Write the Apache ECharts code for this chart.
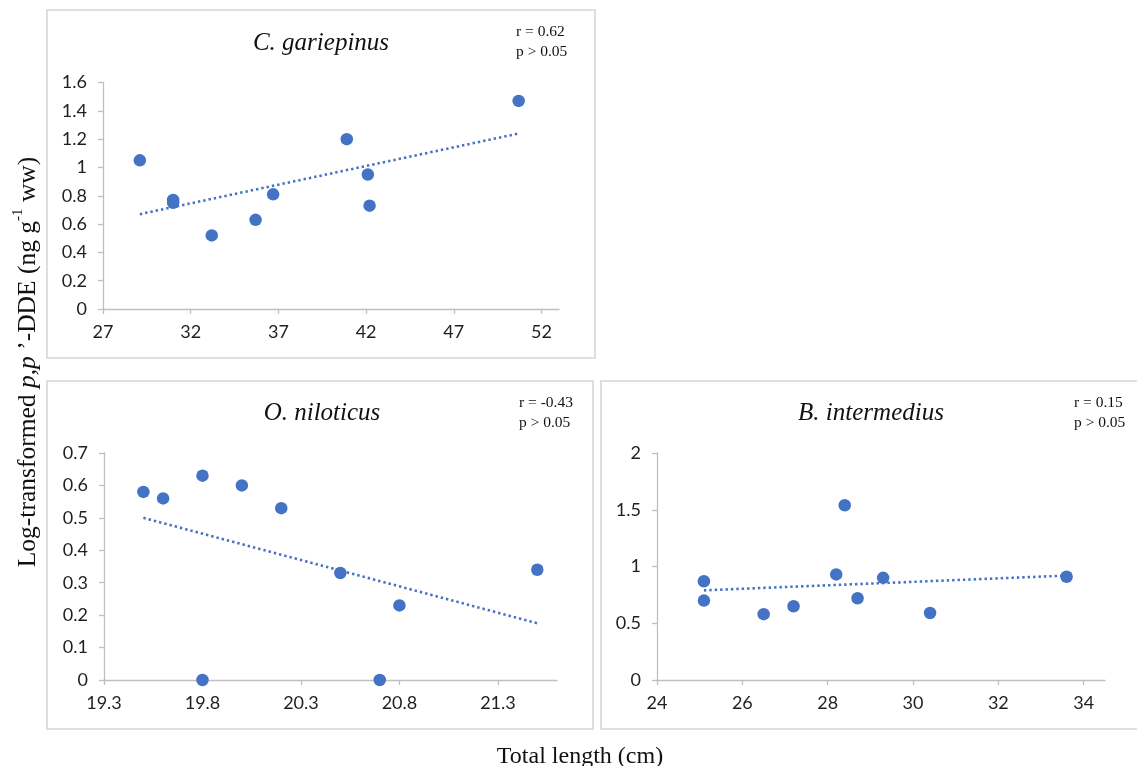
<!DOCTYPE html>
<html>
<head>
<meta charset="utf-8">
<script src="https://cdn.jsdelivr.net/npm/echarts@6/dist/echarts.min.js"></script>
<style>
html,body{margin:0;padding:0;background:#fff;}
#chart{width:1137px;height:766px;}
</style>
</head>
<body>
<div id="chart"></div>
<script>
// ---- Data ----
// C. gariepinus
const cgX = [29.1, 31.0, 31.0, 33.2, 35.7, 36.7, 40.9, 42.1, 42.2, 50.7];
const cgY = [1.05, 0.77, 0.75, 0.52, 0.63, 0.81, 1.20, 0.95, 0.73, 1.47];
const cgTrendX = [29.1, 50.7];
const cgTrendY = [0.67, 1.24];
const cgXTicks = [27, 32, 37, 42, 47, 52];
const cgYTicks = [0, 0.2, 0.4, 0.6, 0.8, 1, 1.2, 1.4, 1.6];
// O. niloticus
const onX = [19.5, 19.6, 19.8, 19.8, 20.0, 20.2, 20.5, 20.7, 20.8, 21.5];
const onY = [0.58, 0.56, 0.63, 0.00, 0.60, 0.53, 0.33, 0.00, 0.23, 0.34];
const onTrendX = [19.5, 21.5];
const onTrendY = [0.50, 0.175];
const onXTicks = [19.3, 19.8, 20.3, 20.8, 21.3];
const onYTicks = [0, 0.1, 0.2, 0.3, 0.4, 0.5, 0.6, 0.7];
// B. intermedius
const biX = [25.1, 25.1, 26.5, 27.2, 28.2, 28.4, 28.7, 29.3, 30.4, 33.6];
const biY = [0.87, 0.70, 0.58, 0.65, 0.93, 1.54, 0.72, 0.90, 0.59, 0.91];
const biTrendX = [25.1, 33.6];
const biTrendY = [0.79, 0.92];
const biXTicks = [24, 26, 28, 30, 32, 34];
const biYTicks = [0, 0.5, 1, 1.5, 2];

const panelTitles = ['C. gariepinus', 'O. niloticus', 'B. intermedius'];
const rLabels = ['r = 0.62', 'r = -0.43', 'r = 0.15'];
const pLabel = 'p > 0.05';

// ---- Styling ----
const BLUE = '#4472C4';
const AXIS = '#bfbfbf';
const LABEL = '#1f1f1f';
const SANS = 'Lato, "Open Sans", sans-serif';
const SERIF = '"Liberation Serif", "Times New Roman", serif';

function pairs(xs, ys){ return xs.map((x,i)=>[x, ys[i]]); }

function xAxisCfg(grid, min, max, ticks){
  return {
    type:'value', gridIndex:grid, min:min, max:max,
    axisLine:{show:true, lineStyle:{color:AXIS, width:1.3}},
    axisTick:{show:true, length:5, lineStyle:{color:AXIS, width:1.3}, customValues:ticks},
    axisLabel:{color:LABEL, fontSize:18, fontFamily:SANS, margin:14, customValues:ticks,
      formatter:v=>String(v)},
    splitLine:{show:false}
  };
}
function yAxisCfg(grid, min, max, ticks){
  return {
    type:'value', gridIndex:grid, min:min, max:max,
    axisLine:{show:true, lineStyle:{color:AXIS, width:1.3}},
    axisTick:{show:true, length:5, lineStyle:{color:AXIS, width:1.3}, customValues:ticks},
    axisLabel:{color:LABEL, fontSize:18, fontFamily:SANS, margin:16, customValues:ticks,
      formatter:v=>String(v)},
    splitLine:{show:false}
  };
}
function scatter(i, xs, ys){
  return {type:'scatter', xAxisIndex:i, yAxisIndex:i, data:pairs(xs, ys),
    symbolSize:12.5, itemStyle:{color:BLUE, opacity:1}, z:5};
}
function trend(i, xs, ys){
  return {type:'line', xAxisIndex:i, yAxisIndex:i, data:pairs(xs, ys),
    symbol:'none', lineStyle:{color:BLUE, width:2.6, type:[2.4,3]}, z:3, silent:true};
}

const chart = echarts.init(document.getElementById('chart'), null, {renderer:'canvas'});

const panelRects = [
  {x:47, y:10, w:548, h:348},
  {x:47, y:381, w:546, h:348},
  {x:601, y:381, w:545, h:348}
];

const graphic = [];
panelRects.forEach(r=>{
  graphic.push({type:'rect', shape:{x:r.x, y:r.y, width:r.w, height:r.h},
    style:{fill:null, stroke:'#d6d6d6', lineWidth:1.6}, z:-1, silent:true});
});
const titlePos = [[321, 43], [322, 413], [871, 413]];
const annPos = [[516, 32, 52], [519, 403, 423], [1074, 403, 423]];
panelTitles.forEach((t,i)=>{
  graphic.push({type:'text', x:titlePos[i][0], y:titlePos[i][1],
    style:{text:t, fontFamily:SERIF, fontStyle:'italic', fontSize:25, fill:'#111',
      align:'center', verticalAlign:'middle'}});
  graphic.push({type:'text', x:annPos[i][0], y:annPos[i][1],
    style:{text:rLabels[i], fontFamily:SERIF, fontSize:15.5, fill:'#111', align:'left', verticalAlign:'middle'}});
  graphic.push({type:'text', x:annPos[i][0], y:annPos[i][2],
    style:{text:pLabel, fontFamily:SERIF, fontSize:15.5, fill:'#111', align:'left', verticalAlign:'middle'}});
});
// x-axis title
graphic.push({type:'text', x:580, y:757,
  style:{text:'Total length (cm)', fontFamily:SERIF, fontSize:24, fill:'#111', align:'center', verticalAlign:'middle'}});
// y-axis title (rotated)
graphic.push({type:'text', x:26, y:362, rotation:Math.PI/2,
  style:{
    text:'{a|Log-transformed }{i|p,p}{a| \u2019-DDE (ng g}{s|-1}{a| ww)}',
    align:'center', verticalAlign:'middle',
    rich:{
      a:{fontFamily:SERIF, fontSize:25.5, fill:'#111', lineHeight:30, verticalAlign:'bottom'},
      i:{fontFamily:SERIF, fontSize:25.5, fontStyle:'italic', fill:'#111', lineHeight:30, verticalAlign:'bottom'},
      s:{fontFamily:SERIF, fontSize:15, fill:'#111', lineHeight:15, verticalAlign:'top'}
    }
  }});

const option = {
  animation:false,
  backgroundColor:'#fff',
  grid:[
    {left:103, top:82.5, width:456, height:226.5},
    {left:104, top:453, width:453, height:227},
    {left:657, top:453, width:448, height:227}
  ],
  xAxis:[
    xAxisCfg(0, 27, 53, cgXTicks),
    xAxisCfg(1, 19.3, 21.6, onXTicks),
    xAxisCfg(2, 24, 34.5, biXTicks)
  ],
  yAxis:[
    yAxisCfg(0, 0, 1.6, cgYTicks),
    yAxisCfg(1, 0, 0.7, onYTicks),
    yAxisCfg(2, 0, 2, biYTicks)
  ],
  series:[
    trend(0, cgTrendX, cgTrendY), scatter(0, cgX, cgY),
    trend(1, onTrendX, onTrendY), scatter(1, onX, onY),
    trend(2, biTrendX, biTrendY), scatter(2, biX, biY)
  ],
  graphic:graphic
};
chart.setOption(option);
</script>
</body>
</html>
